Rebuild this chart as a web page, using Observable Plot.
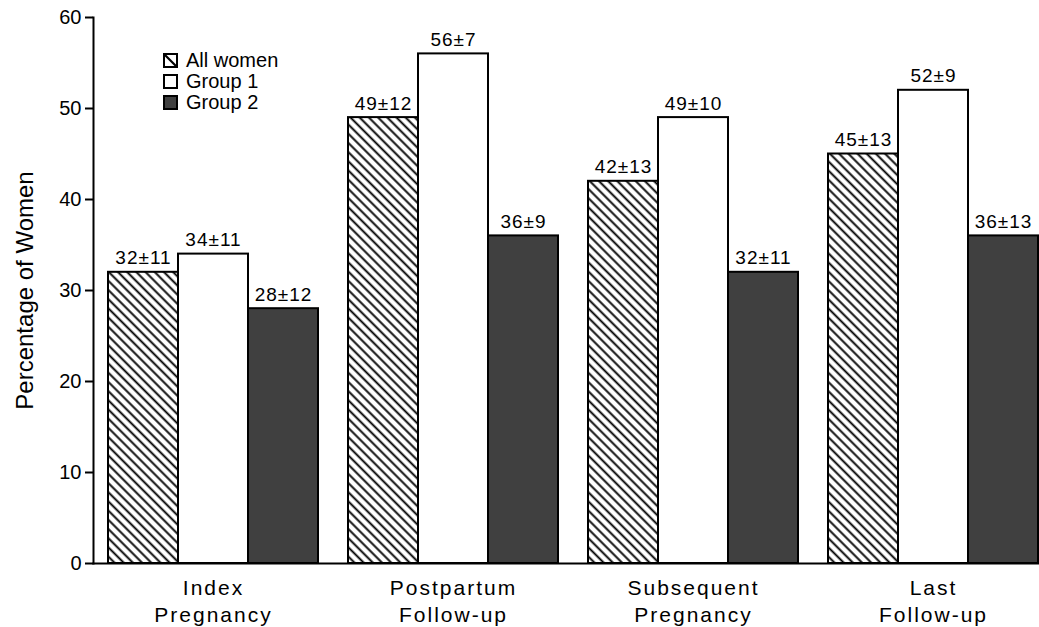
<!DOCTYPE html>
<html><head><meta charset="utf-8">
<script src="https://cdn.jsdelivr.net/npm/d3@7"></script>
<script src="https://cdn.jsdelivr.net/npm/@observablehq/plot@0.6"></script>
<style>
html,body{margin:0;padding:0;background:#fff;}
#wrap{position:relative;width:1039px;height:627px;font-family:"Liberation Sans",Arial,sans-serif;}
#legend{position:absolute;left:163px;top:50px;font-size:20px;line-height:21px;color:#000;}
.row{display:flex;align-items:center;height:21px;}
.sw{width:15px;height:15px;margin-right:8px;display:block;}
</style></head>
<body>
<svg width="0" height="0" style="position:absolute">
<defs>
<pattern id="hatch" patternUnits="userSpaceOnUse" width="10" height="6.5" patternTransform="rotate(45)">
<rect width="10" height="6.5" fill="white"/>
<line x1="0" y1="3.25" x2="10" y2="3.25" stroke="black" stroke-width="1.9"/>
</pattern>
</defs></svg>
<div id="wrap"><div id="legend"></div></div>
<script>
const categories = ["Index\nPregnancy", "Postpartum\nFollow-up", "Subsequent\nPregnancy", "Last\nFollow-up"];
const groups = ["All women", "Group 1", "Group 2"];
const allWomen = [32, 49, 42, 45];
const allWomenSD = [11, 12, 13, 13];
const group1 = [34, 56, 49, 52];
const group1SD = [11, 7, 10, 9];
const group2 = [28, 36, 32, 36];
const group2SD = [12, 9, 11, 13];
const yTicks = [0, 10, 20, 30, 40, 50, 60];
const fills = ["url(#hatch)", "white", "#404040"];

const values = [allWomen, group1, group2];
const sds = [allWomenSD, group1SD, group2SD];
const rows = categories.flatMap((c, i) => groups.map((g, j) => ({category: c, group: g, value: values[j][i], sd: sds[j][i]})));

const chart = Plot.plot({
  width: 1039, height: 627,
  marginLeft: 92, marginRight: 1, marginTop: 17, marginBottom: 64,
  style: {fontFamily: "Liberation Sans, Arial, sans-serif", fontSize: "20px", color: "black", background: "white"},
  fx: {domain: categories, paddingInner: 0.125, paddingOuter: 0.0312, align: 1, label: null},
  x: {domain: groups, padding: 0, axis: null},
  y: {domain: [0, 60]},
  color: {domain: groups, range: fills},
  marks: [
    Plot.barY(rows, {fx: "category", x: "group", y: "value", fill: "group", stroke: "black", strokeWidth: 2}),
    Plot.text(rows, {fx: "category", x: "group", y: "value", text: d => `${d.value}±${d.sd}`, lineAnchor: "bottom", dy: -8, fontSize: 19}),
    Plot.frame({anchor: "bottom", facet: "super", strokeWidth: 2, insetLeft: -15}),
    Plot.frame({anchor: "left", facet: "super", strokeWidth: 2, dx: -15}),
    Plot.axisY(yTicks, {dx: -15, tickSize: 8, tickPadding: 4, strokeWidth: 2, fontSize: 20, label: "Percentage of Women", labelAnchor: "center", labelOffset: 93, labelArrow: "none"}),
    Plot.axisFx({anchor: "bottom", tickSize: 0, tickPadding: 12, fontSize: 21, lineHeight: 1.29, label: null})
  ]
});
document.getElementById("wrap").prepend(chart);
const s = d3.select(chart);
s.selectAll('g[aria-label="fx-axis tick label"] text').style("letter-spacing", "2px");
s.selectAll('g[aria-label="y-axis label"] text').style("font-size", "24px");
s.selectAll('g[aria-label="text"] text').style("letter-spacing", "1px");

// legend
const legend = d3.select("#legend");
groups.forEach((g, j) => {
  const row = legend.append("div").attr("class", "row");
  const sw = row.append("svg").attr("class", "sw").attr("width", 15).attr("height", 15);
  sw.append("rect").attr("x", 1).attr("y", 1).attr("width", 13).attr("height", 13)
    .attr("fill", j === 0 ? "white" : fills[j]).attr("stroke", "black").attr("stroke-width", 2);
  if (j === 0) sw.append("line").attr("x1", 1).attr("y1", 1).attr("x2", 14).attr("y2", 14).attr("stroke", "black").attr("stroke-width", 2.2);
  row.append("span").text(g);
});
</script>
</body></html>
